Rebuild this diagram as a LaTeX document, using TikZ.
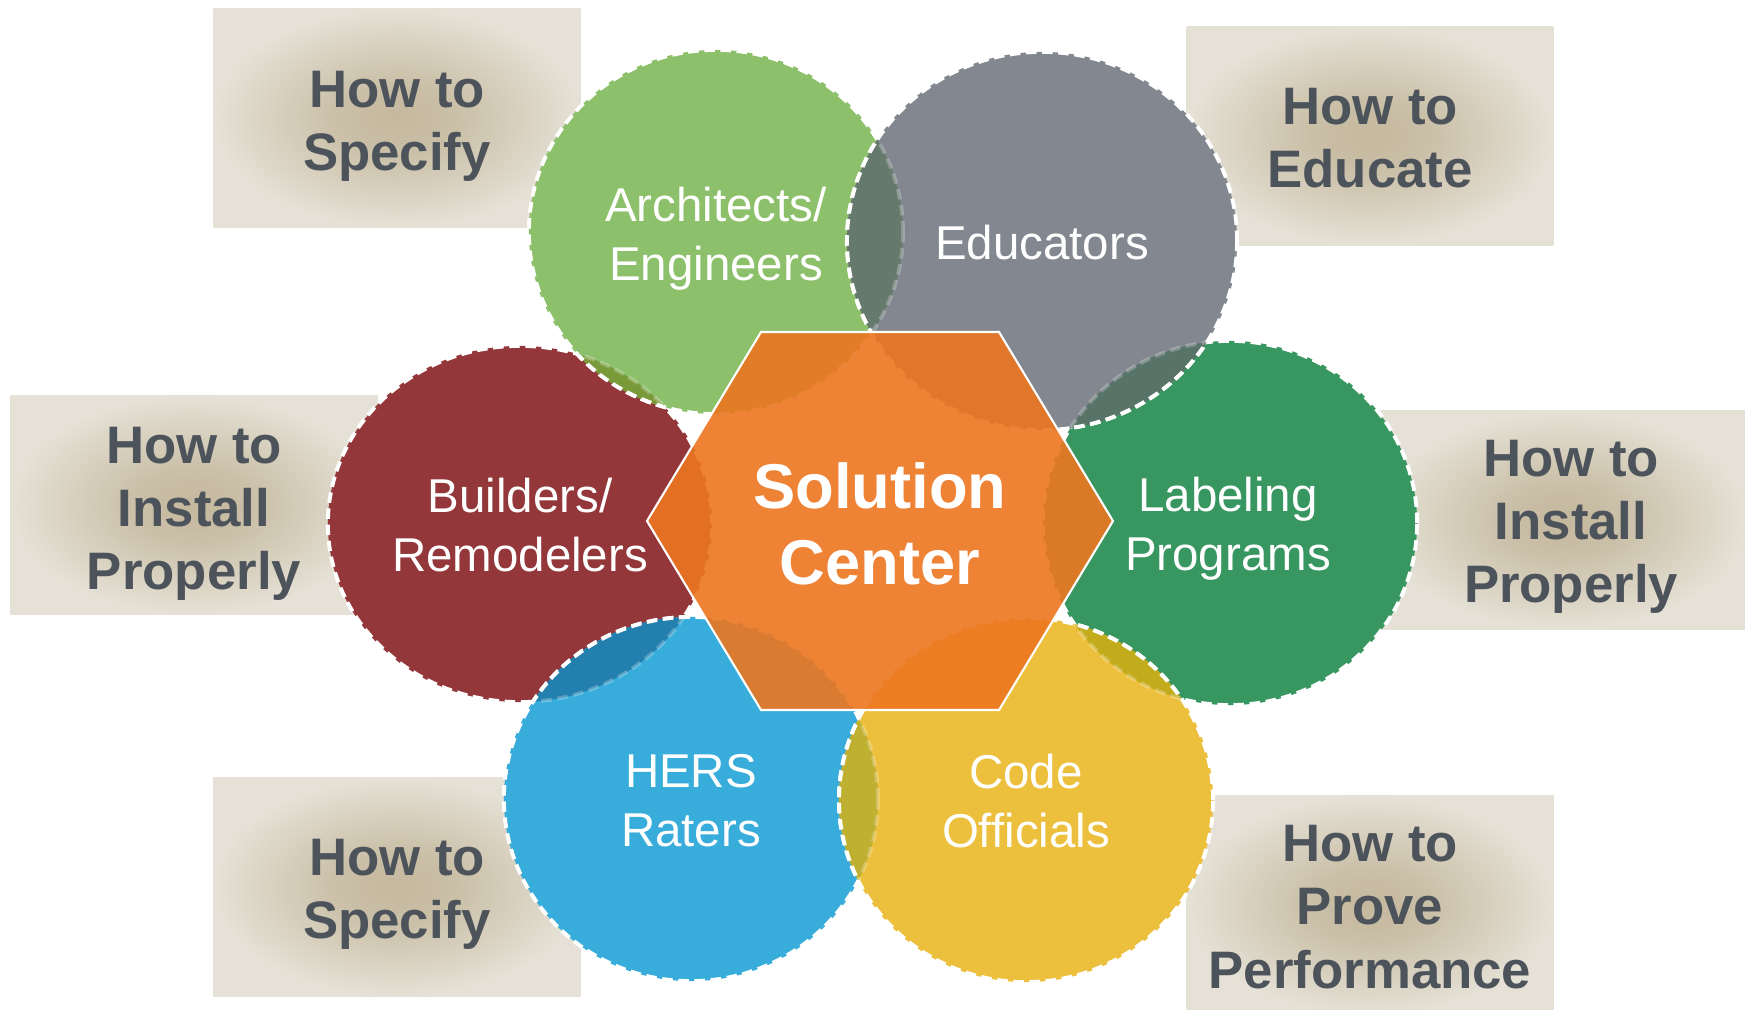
\documentclass[tikz,border=0pt]{standalone}
\usepackage{fontspec}
\setmainfont{Liberation Sans}
\usetikzlibrary{shapes.geometric}

\definecolor{boxtext}{RGB}{77,83,91}
\definecolor{boxin}{RGB}{196,184,157}
\definecolor{boxout}{RGB}{229,225,214}
\definecolor{archgreen}{RGB}{141,192,106}
\definecolor{educgray}{RGB}{130,135,144}
\definecolor{buildred}{RGB}{147,55,58}
\definecolor{labelgreen}{RGB}{56,151,96}
\definecolor{hersblue}{RGB}{56,172,218}
\definecolor{codeyellow}{RGB}{236,192,60}
\definecolor{huborange}{RGB}{236,118,32}
% where two groups overlap
\definecolor{lensEA}{RGB}{101,122,108}
\definecolor{lensAB}{RGB}{122,154,58}
\definecolor{lensEL}{RGB}{88,115,104}
\definecolor{lensHB}{RGB}{35,127,173}
\definecolor{lensCL}{RGB}{195,172,28}
\definecolor{lensCH}{RGB}{192,176,50}

\pgfdeclareradialshading{howglow}{\pgfpoint{0bp}{0bp}}{color(0bp)=(boxin); color(8bp)=(boxin!82!boxout); color(25bp)=(boxout); color(50bp)=(boxout)}

\begin{document}
\begin{tikzpicture}[x=0.01cm, y=-0.01cm,
    howbox/.style={rectangle, minimum width=3.67cm, minimum height=2.18cm, shading=howglow},
    howtext/.style={align=center, text=boxtext, font=\fontsize{15}{18}\selectfont\bfseries},
    rim/.style={draw=white, line width=1.1pt, dash pattern=on 3pt off 1.6pt},
    group/.style={ellipse, minimum width=3.74cm, minimum height=3.64cm, rim},
    grouptext/.style={text=white, align=center, font=\fontsize{13.5}{16.8}\selectfont},
    hexagon/.style={fill=huborange, fill opacity=0.9, draw=white, line width=0.6pt},
    hubtext/.style={text=white, align=center, font=\fontsize{18}{21.6}\selectfont\bfseries}]
    \useasboundingbox (0,0) rectangle (1745,1010);

    % the six questions
    \node[howbox] (specTop) at (397,118) {};
    \node[howbox] (educate) at (1370,136) {};
    \node[howbox] (installL) at (194,505) {};
    \node[howbox] (installR) at (1563,520) {};
    \node[howbox] (specBot) at (397,887) {};
    \node[howbox] (prove) at (1370,905) {};
    \node[howtext] (specTopText) at (397,126) {How to\\Specify};
    \node[howtext] (educateText) at (1370,138) {How to\\Educate};
    \node[howtext] (installLText) at (194,514) {How to\\Install\\Properly};
    \node[howtext] (installRText) at (1571,527) {How to\\Install\\Properly};
    \node[howtext] (specBotText) at (397,894) {How to\\Specify};
    \node[howtext] (proveText) at (1370,907) {How to\\Prove\\Performance};

    % the six groups, back to front
    \node[group, fill=buildred, minimum width=3.84cm, minimum height=3.56cm] (build) at (520,524) {};
    \node[group, fill=archgreen] (arch) at (716,232) {};
    \node[group, fill=labelgreen] (label) at (1230,523) {};
    \node[group, fill=educgray, minimum width=3.9cm, minimum height=3.78cm] (educ) at (1042,241) {};
    \node[group, fill=hersblue] (hers) at (691,799) {};
    \node[group, fill=codeyellow] (code) at (1026,800) {};

    % overlaps: darker lens, faint rim of the back group
    \foreach \back/\bw/\bh/\front/\fw/\fh/\lens in {
        build/192/178/arch/187/182/lensAB,
        arch/187/182/educ/195/189/lensEA,
        label/187/182/educ/195/189/lensEL,
        build/192/178/hers/187/182/lensHB,
        label/187/182/code/187/182/lensCL,
        hers/187/182/code/187/182/lensCH}
    {
        \begin{scope}
            \clip (\back.center) ellipse [x radius=\bw, y radius=\bh];
            \fill[\lens] (\front.center) ellipse [x radius=\fw, y radius=\fh];
            \draw[rim] (\front.center) ellipse [x radius=\fw, y radius=\fh];
        \end{scope}
        \begin{scope}
            \clip (\front.center) ellipse [x radius=\fw, y radius=\fh];
            \draw[rim, draw opacity=0.25] (\back.center) ellipse [x radius=\bw, y radius=\bh];
        \end{scope}
    }

    \node[grouptext] (archText) at (716,239) {Architects/\\Engineers};
    \node[grouptext] (educText) at (1042,243) {Educators};
    \node[grouptext] (buildText) at (520,525) {Builders/\\Remodelers};
    \node[grouptext] (labelText) at (1228,529) {Labeling\\Programs};
    \node[grouptext] (hersText) at (691,801) {HERS\\Raters};
    \node[grouptext] (codeText) at (1026,801) {Code\\Officials};

    % the hub
    \coordinate (hubc) at (880,521);
    \draw[hexagon] ([shift={(-233,0)}]hubc) -- ([shift={(-119,-189)}]hubc)
        -- ([shift={(119,-189)}]hubc) -- ([shift={(233,0)}]hubc)
        -- ([shift={(119,189)}]hubc) -- ([shift={(-119,189)}]hubc) -- cycle;
    \node[hubtext] (hub) at (880,524) {Solution\\Center};
\end{tikzpicture}
\end{document}
